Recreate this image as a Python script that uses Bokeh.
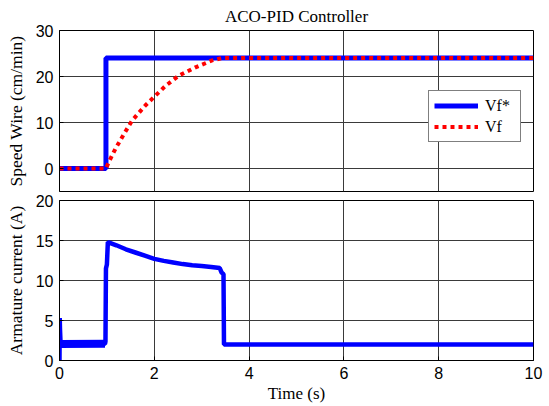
from bokeh.plotting import figure
from bokeh.layouts import column
from bokeh.models import Legend, LegendItem, FixedTicker, Range1d
from bokeh.embed import file_html
from bokeh.resources import INLINE

# ---- data ----
t_ref = [0, 0.98, 0.98, 10]
vf_ref = [0, 0, 24, 24]

t_vf = [0, 0.98, 1.04, 1.18, 1.36, 1.53, 1.81, 1.99, 2.24, 2.52, 2.87, 3.22, 3.43, 10]
vf = [0, 0, 1.4, 4.3, 7.5, 10.4, 13.7, 15.5, 18.0, 20.2, 22.0, 23.5, 24, 24]

t_ia = [0, 0.005, 0.01, 0.02, 0.03, 0.5, 0.96, 0.97, 0.98, 1.0, 1.02, 1.2, 1.4, 1.6,
        1.8, 2.0, 2.2, 2.4, 2.6, 2.8, 3.0, 3.2, 3.38, 3.42, 3.46, 3.47, 3.5, 10]
ia = [0, 5.3, 4.0, 2.5, 2.0, 2.0, 2.1, 2.4, 11.5, 12.0, 14.8, 14.4, 13.9, 13.5,
      13.1, 12.7, 12.45, 12.25, 12.05, 11.9, 11.8, 11.7, 11.55, 11.0, 10.8, 2.0, 2.0, 2.0]

noise_t = [0.03, 0.96]
noise_lo = [1.55, 1.6]
noise_hi = [2.55, 2.6]

x_ticks = [0, 2, 4, 6, 8, 10]
y1_ticks = [0, 10, 20, 30]
y2_ticks = [0, 5, 10, 15, 20]

SERIF = "Liberation Serif"
SANS = "Liberation Sans"
GRID = "#3a3a3a"


def style(p, yticks):
    p.xaxis.ticker = FixedTicker(ticks=x_ticks)
    p.yaxis.ticker = FixedTicker(ticks=yticks)
    for ax in (p.xaxis, p.yaxis):
        ax.major_tick_in = 4
        ax.major_tick_out = 0
        ax.minor_tick_in = 0
        ax.minor_tick_out = 0
        ax.axis_line_color = "black"
        ax.major_tick_line_color = "black"
        ax.major_label_text_font = SANS
        ax.major_label_text_font_size = "16px"
        ax.major_label_text_color = "black"
        ax.axis_label_text_font = SERIF
        ax.axis_label_text_font_size = "17px"
        ax.axis_label_text_font_style = "normal"
        ax.axis_label_text_color = "black"
    p.yaxis.major_label_standoff = 6
    p.yaxis.axis_label_standoff = 7
    p.yaxis.axis_label_text_font_size = "17.5px"
    p.xgrid.grid_line_color = GRID
    p.ygrid.grid_line_color = GRID
    p.xgrid.grid_line_width = 1
    p.ygrid.grid_line_width = 1
    p.outline_line_color = "black"
    p.outline_line_width = 1
    p.outline_line_alpha = 1
    p.min_border_left = 59
    p.min_border_right = 16


p1 = figure(width=549, height=192, output_backend="svg", toolbar_location=None,
            x_range=Range1d(0, 10), y_range=Range1d(-5, 30),
            title="ACO-PID Controller")
p1.min_border_top = 30
p1.min_border_bottom = 1
style(p1, y1_ticks)
p1.xaxis.visible = False
p1.yaxis.axis_label = "Speed Wire (cm/min)"
p1.title.align = "center"
p1.title.text_font = SERIF
p1.title.text_font_size = "17px"
p1.title.text_font_style = "normal"
p1.title.text_color = "black"
p1.title.standoff = 9

r1 = p1.line(t_ref, vf_ref, line_color="#0000ff", line_width=5)
r2 = p1.line(t_vf, vf, line_color="#ff0000", line_width=4, line_dash="4 4")

legend = Legend(items=[LegendItem(label="Vf*", renderers=[r1]),
                       LegendItem(label="Vf", renderers=[r2])],
                location=(369, 49))
legend.label_text_font = SERIF
legend.label_text_font_size = "16px"
legend.label_text_color = "black"
legend.glyph_width = 44
legend.glyph_height = 19
legend.label_height = 19
legend.label_width = 30
legend.spacing = 2
legend.padding = 5
legend.margin = 0
legend.label_standoff = 7
legend.border_line_color = "black"
legend.border_line_width = 1
legend.background_fill_alpha = 1
p1.add_layout(legend, "center")

p2 = figure(width=549, height=213, output_backend="svg", toolbar_location=None,
            x_range=Range1d(0, 10), y_range=Range1d(0, 20))
p2.min_border_top = 8
p2.min_border_bottom = 43
style(p2, y2_ticks)
p2.xaxis.axis_label = "Time (s)"
p2.xaxis.major_label_standoff = 6
p2.xaxis.axis_label_standoff = 2
p2.yaxis.axis_label = "Armature current (A)"

p2.varea(x=noise_t, y1=noise_lo, y2=noise_hi, fill_color="#0000ff")
p2.line(t_ia, ia, line_color="#0000ff", line_width=4.5)

layout = column(p1, p2, spacing=0)
open("out.html", "w").write(file_html(layout, INLINE))
